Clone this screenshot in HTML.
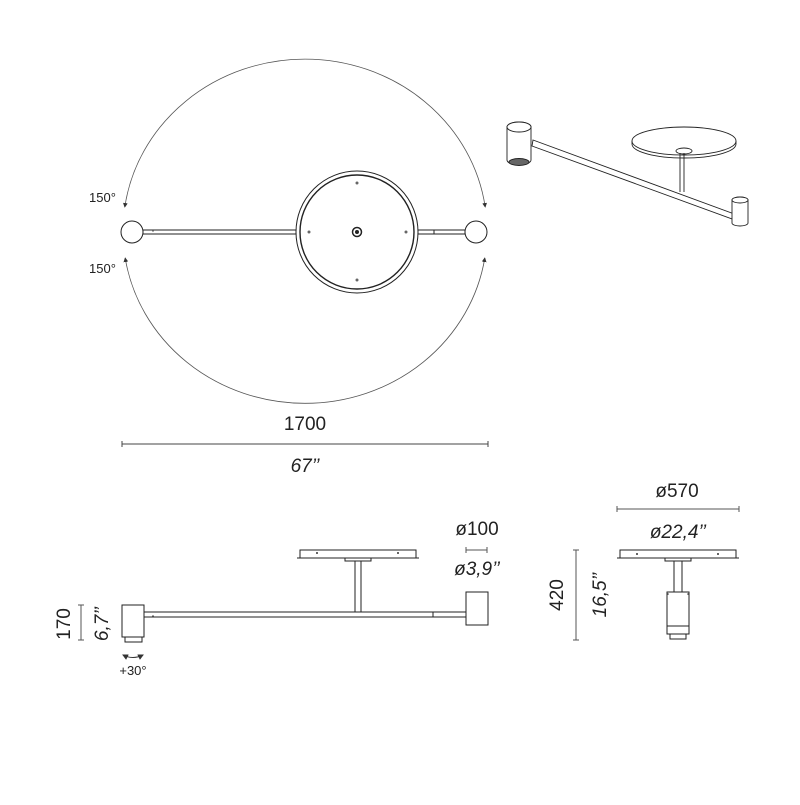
<!DOCTYPE html>
<html><head><meta charset="utf-8"><style>
html,body{margin:0;padding:0;background:#fff;}
svg text{font-family:"Liberation Sans",sans-serif;fill:#222;}
</style></head><body>
<svg width="800" height="800" viewBox="0 0 800 800" xmlns="http://www.w3.org/2000/svg">
<defs>
<marker id="ah" markerWidth="6" markerHeight="6" refX="5" refY="3" orient="auto-start-reverse"><path d="M0,0 L6,3 L0,6 z" fill="#333"/></marker>
</defs>
<g fill="none" stroke="#555" stroke-width="0.8">
<path d="M485.2,207 A182,172 0 0 0 124.8,207" marker-end="url(#ah)" marker-start="url(#ah)"/>
<path d="M125.2,258 A182,172 0 0 0 484.8,258" marker-end="url(#ah)" marker-start="url(#ah)"/>
</g>
<g fill="none" stroke="#222" stroke-width="1">
<rect x="143" y="230" width="153" height="4"/>
<rect x="418" y="230" width="47" height="4"/>
<line x1="434" y1="230" x2="434" y2="234"/>
<circle cx="132" cy="232" r="11" fill="#fff"/>
<circle cx="476" cy="232" r="11" fill="#fff"/>
<circle cx="357" cy="232" r="61" fill="#fff"/>
<circle cx="357" cy="232" r="57" stroke-width="1.4"/>
<circle cx="357" cy="232" r="4.5" stroke-width="1.5"/>
<circle cx="357" cy="232" r="1.5" fill="#222"/>
</g>
<g fill="#666"><circle cx="357" cy="183" r="1.5"/><circle cx="357" cy="280" r="1.5"/><circle cx="309" cy="232" r="1.5"/><circle cx="406" cy="232" r="1.5"/><circle cx="153" cy="231" r="0.8"/></g>
<text x="89" y="202" font-size="13">150°</text>
<text x="89" y="273" font-size="13">150°</text>
<text x="305" y="430" font-size="19" text-anchor="middle">1700</text>
<g stroke="#444" stroke-width="1"><line x1="122" y1="444" x2="488" y2="444"/><line x1="122" y1="441" x2="122" y2="447"/><line x1="488" y1="441" x2="488" y2="447"/></g>
<text x="305" y="472" font-size="19" font-style="italic" text-anchor="middle">67’’</text>

<g stroke="#222" stroke-width="0.9" fill="#fff">
<ellipse cx="684" cy="141" rx="52" ry="14"/>
<path d="M632,141 v3 a52,14 0 0 0 104,0 v-3" fill="none"/>
<ellipse cx="684" cy="151" rx="8" ry="3"/>
<line x1="680" y1="153" x2="680" y2="192"/><line x1="684" y1="153" x2="684" y2="192"/>
<path d="M533,140 L737,215 L735,220 L532,146 z"/>
<path d="M507,127 a12,5 0 0 1 24,0 v33 a12,5 0 0 1 -24,0 z"/>
<ellipse cx="519" cy="127" rx="12" ry="5"/>
<ellipse cx="519" cy="162" rx="10" ry="3.5" fill="#666"/>
<path d="M732,200 a8,3 0 0 1 16,0 v23 a8,3 0 0 1 -16,0 z"/>
<ellipse cx="740" cy="200" rx="8" ry="3"/>
</g>

<g stroke="#222" stroke-width="1" fill="#fff">
<rect x="300" y="550" width="116" height="8"/>
<line x1="297" y1="558" x2="419" y2="558"/>
<rect x="345" y="558" width="26" height="3"/>
<rect x="355" y="561" width="6" height="51"/>
<rect x="144" y="612" width="322" height="5"/>
<line x1="433" y1="612" x2="433" y2="617"/>
<rect x="122" y="605" width="22" height="32"/>
<rect x="125" y="637" width="17" height="5"/>
<rect x="466" y="592" width="22" height="33"/>
</g>
<g fill="#333"><circle cx="317" cy="553" r="1"/><circle cx="398" cy="553" r="1"/><circle cx="153" cy="616" r="0.8"/></g>
<g stroke="#555" stroke-width="1"><line x1="81" y1="605" x2="81" y2="640"/><line x1="78" y1="605" x2="84" y2="605"/><line x1="78" y1="640" x2="84" y2="640"/>
<line x1="466" y1="550" x2="487" y2="550"/><line x1="466" y1="547" x2="466" y2="553"/><line x1="487" y1="547" x2="487" y2="553"/></g>
<text transform="translate(70,624) rotate(-90)" font-size="19" text-anchor="middle">170</text>
<text transform="translate(108,624) rotate(-90)" font-size="19" font-style="italic" text-anchor="middle">6,7’’</text>
<path d="M123,655 q10,5 20,0" stroke="#333" fill="none" marker-start="url(#ah)" marker-end="url(#ah)"/>
<text x="133" y="675" font-size="13" text-anchor="middle">+30°</text>
<text x="477" y="535" font-size="19" text-anchor="middle">ø100</text>
<text x="477" y="575" font-size="19" font-style="italic" text-anchor="middle">ø3,9’’</text>

<text x="677" y="497" font-size="19" text-anchor="middle">ø570</text>
<g stroke="#555" stroke-width="1"><line x1="617" y1="509" x2="739" y2="509"/><line x1="617" y1="506" x2="617" y2="512"/><line x1="739" y1="506" x2="739" y2="512"/>
<line x1="576" y1="550" x2="576" y2="640"/><line x1="573" y1="550" x2="579" y2="550"/><line x1="573" y1="640" x2="579" y2="640"/></g>
<text x="678" y="538" font-size="19" font-style="italic" text-anchor="middle">ø22,4’’</text>
<g stroke="#222" stroke-width="1" fill="#fff">
<rect x="620" y="550" width="116" height="8"/>
<line x1="617" y1="558" x2="739" y2="558"/>
<rect x="665" y="558" width="26" height="3"/>
<rect x="674" y="561" width="8" height="31"/>
<rect x="667" y="592" width="22" height="42"/>
<line x1="667" y1="626" x2="689" y2="626"/>
<rect x="670" y="634" width="16" height="5"/>
</g>
<g fill="#333"><circle cx="637" cy="554" r="1"/><circle cx="718" cy="554" r="1"/><circle cx="668" cy="594" r="0.8"/><circle cx="688" cy="594" r="0.8"/></g>
<text transform="translate(563,595) rotate(-90)" font-size="19" text-anchor="middle">420</text>
<text transform="translate(606,595) rotate(-90)" font-size="19" font-style="italic" text-anchor="middle">16,5’’</text>
</svg>
</body></html>
